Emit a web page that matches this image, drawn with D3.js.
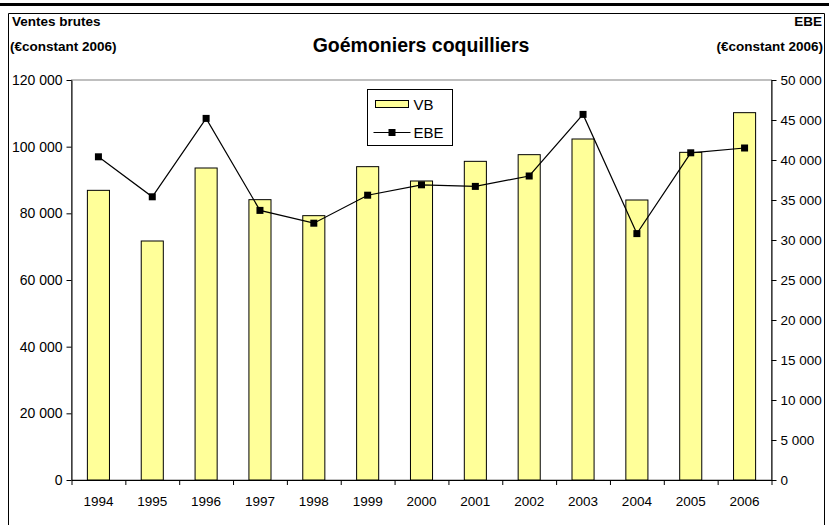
<!DOCTYPE html>
<html>
<head>
<meta charset="utf-8">
<script src="https://cdn.jsdelivr.net/npm/d3@7"></script>
<style>
  body { margin: 0; background: #fff; }
  svg text { font-family: "Liberation Sans", Arial, sans-serif; fill: #000; }
</style>
</head>
<body>
<div id="chart"></div>
<script>
// chart data
const years = ['1994', '1995', '1996', '1997', '1998', '1999', '2000',
  '2001', '2002', '2003', '2004', '2005', '2006'];
const vb = [86900, 71700, 93600, 84100, 79300, 94000, 89700,
  95600, 97600, 102300, 84000, 98300, 110200];
const ebe = [40400, 35400, 45200, 33700, 32100, 35600, 36900,
  36700, 38000, 45700, 30800, 40900, 41500];
const leftTicks = [0, 20000, 40000, 60000, 80000, 100000, 120000];
const rightTicks = [0, 5000, 10000, 15000, 20000, 25000, 30000, 35000, 40000, 45000, 50000];

const w = 829;
const h = 525;
const plot = {left: 71.5, right: 771.5, top: 80, bottom: 480};

// French style thousands: "120 000"
const fr = d3.formatLocale({decimal: ',', thousands: ' ', grouping: [3], currency: ['', '']});
const fmt = fr.format(',d');

const svg = d3.select('#chart').append('svg')
    .attr('width', w)
    .attr('height', h);

// thick rule on top + frame
svg.append('line')
    .attr('x1', 0).attr('x2', w).attr('y1', 4.5).attr('y2', 4.5)
    .attr('stroke', '#000').attr('stroke-width', 3);
svg.append('path')
    .attr('d', 'M8.5,' + h + 'V13.5H824.5V' + h)
    .attr('fill', 'none').attr('stroke', '#000').attr('stroke-width', 1);

// scales
const x = d3.scaleBand()
    .domain(years)
    .range([plot.left, plot.right])
    .paddingInner(0.59)
    .paddingOuter(0.295);
const xEdge = d3.scaleLinear()
    .domain([0, years.length])
    .range([plot.left, plot.right]);
const yL = d3.scaleLinear().domain([0, 120000]).range([plot.bottom, plot.top]);
const yR = d3.scaleLinear().domain([0, 50000]).range([plot.bottom, plot.top]);

// plot area border
svg.append('rect')
    .attr('x', plot.left).attr('y', plot.top)
    .attr('width', plot.right - plot.left).attr('height', plot.bottom - plot.top)
    .attr('fill', 'none').attr('stroke', '#808080');

// bars
svg.append('g')
    .selectAll('rect')
    .data(vb)
    .enter()
    .append('rect')
    .attr('x', (d, i) => x(years[i]))
    .attr('y', (d) => yL(d))
    .attr('width', x.bandwidth())
    .attr('height', (d) => yL(0) - yL(d))
    .attr('fill', '#ffff99')
    .attr('stroke', '#000')
    .attr('stroke-width', 1);

// EBE line
const line = d3.line()
    .x((d, i) => x(years[i]) + x.bandwidth() / 2)
    .y((d) => yR(d));
svg.append('path')
    .datum(ebe)
    .attr('d', line)
    .attr('fill', 'none')
    .attr('stroke', '#000')
    .attr('stroke-width', 1.2);
svg.append('g')
    .selectAll('rect')
    .data(ebe)
    .enter()
    .append('rect')
    .attr('x', (d, i) => x(years[i]) + x.bandwidth() / 2 - 3.5)
    .attr('y', (d) => yR(d) - 3.5)
    .attr('width', 7)
    .attr('height', 7)
    .attr('fill', '#000');

// axes
function styleAxis(size) {
  return function(g) {
    g.selectAll('.domain').attr('stroke', '#000');
    g.selectAll('.tick line').attr('stroke', '#000');
    g.selectAll('text')
        .style('font-family', '"Liberation Sans", Arial, sans-serif')
        .style('font-size', size + 'px')
        .attr('fill', '#000');
  };
}

svg.append('g')
    .attr('transform', 'translate(' + plot.left + ',0)')
    .call(d3.axisLeft(yL).tickValues(leftTicks).tickFormat(fmt).tickSize(5).tickSizeOuter(0).tickPadding(4))
    .call(styleAxis(14));

svg.append('g')
    .attr('transform', 'translate(' + plot.right + ',0)')
    .call(d3.axisRight(yR).tickValues(rightTicks).tickFormat(fmt).tickSize(5).tickSizeOuter(0).tickPadding(4))
    .call(styleAxis(13.5));

// x tick marks at category boundaries
svg.append('g')
    .attr('transform', 'translate(0,' + plot.bottom + ')')
    .call(d3.axisBottom(xEdge).tickValues(d3.range(years.length + 1)).tickFormat('').tickSize(5).tickSizeOuter(0))
    .call(styleAxis(13));

// x labels
svg.append('g')
    .attr('transform', 'translate(0,' + plot.bottom + ')')
    .call(d3.axisBottom(x).tickSize(0).tickPadding(16))
    .call(styleAxis(13.5))
    .call((g) => g.select('.domain').remove());

// titles
svg.append('text')
    .attr('x', 421).attr('y', 52)
    .attr('text-anchor', 'middle')
    .style('font-size', '19.5px').style('font-weight', 'bold')
    .text('Goémoniers coquilliers');

svg.append('text')
    .attr('x', 12).attr('y', 26)
    .style('font-size', '13.5px').style('font-weight', 'bold')
    .text('Ventes brutes');
svg.append('text')
    .attr('x', 10).attr('y', 51)
    .style('font-size', '13.5px').style('font-weight', 'bold')
    .text('(€constant 2006)');

svg.append('text')
    .attr('x', 822).attr('y', 26)
    .attr('text-anchor', 'end')
    .style('font-size', '13.5px').style('font-weight', 'bold')
    .text('EBE');
svg.append('text')
    .attr('x', 823).attr('y', 51)
    .attr('text-anchor', 'end')
    .style('font-size', '13.5px').style('font-weight', 'bold')
    .text('(€constant 2006)');

// legend
const legend = svg.append('g').attr('transform', 'translate(367.5,89.5)');
legend.append('rect')
    .attr('width', 85).attr('height', 56)
    .attr('fill', '#fff').attr('stroke', '#000');
legend.append('rect')
    .attr('x', 8).attr('y', 11).attr('width', 33).attr('height', 7)
    .attr('fill', '#ffff99').attr('stroke', '#000');
legend.append('text')
    .attr('x', 46).attr('y', 20)
    .style('font-size', '15px')
    .text('VB');
legend.append('line')
    .attr('x1', 6).attr('x2', 43).attr('y1', 43).attr('y2', 43)
    .attr('stroke', '#000').attr('stroke-width', 1.2);
legend.append('rect')
    .attr('x', 21).attr('y', 39.5).attr('width', 7).attr('height', 7)
    .attr('fill', '#000');
legend.append('text')
    .attr('x', 46).attr('y', 48)
    .style('font-size', '15px')
    .text('EBE');
</script>
</body>
</html>
